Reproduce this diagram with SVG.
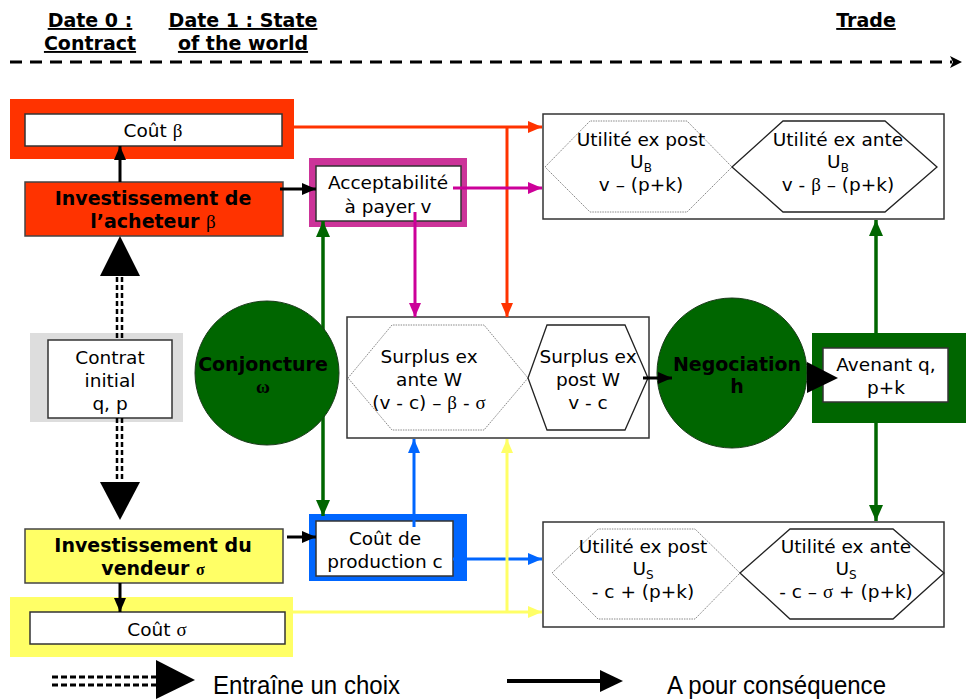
<svg xmlns="http://www.w3.org/2000/svg" width="966" height="699" viewBox="0 0 966 699">
<style>
.t{font-family:"DejaVu Sans",Verdana,sans-serif;font-size:18.5px;fill:#000;text-anchor:middle}
.b{font-weight:bold;font-size:19px}
.h{font-family:"DejaVu Sans",Verdana,sans-serif;font-size:19px;font-weight:bold;text-anchor:middle;text-decoration:underline}
.g{font-family:"Liberation Serif","Times New Roman",serif}
.w{fill:#fff;stroke:#333;stroke-width:1.5}
.hexd{fill:none;stroke:#888;stroke-width:1;stroke-dasharray:1.5 1}
.hexs{fill:none;stroke:#222;stroke-width:1.3}
.leg{font-family:"Liberation Sans",Arial,sans-serif;font-size:25px;fill:#000}
.dd{stroke:#000;stroke-width:2.5;stroke-dasharray:5 3}
</style>
<defs>
<marker id="ak" markerWidth="14" markerHeight="12" refX="14" refY="6" orient="auto" markerUnits="userSpaceOnUse"><path d="M0,0L14,6L0,12z" fill="#000"/></marker>
<marker id="ar" markerWidth="14" markerHeight="12" refX="14" refY="6" orient="auto" markerUnits="userSpaceOnUse"><path d="M0,0L14,6L0,12z" fill="#FF3300"/></marker>
<marker id="am" markerWidth="14" markerHeight="12" refX="14" refY="6" orient="auto" markerUnits="userSpaceOnUse"><path d="M0,0L14,6L0,12z" fill="#CC0099"/></marker>
<marker id="ag" markerWidth="16" markerHeight="14" refX="16" refY="7" orient="auto" markerUnits="userSpaceOnUse"><path d="M0,0L16,7L0,14z" fill="#006600"/></marker>
<marker id="ab" markerWidth="14" markerHeight="12" refX="14" refY="6" orient="auto" markerUnits="userSpaceOnUse"><path d="M0,0L14,6L0,12z" fill="#0066FF"/></marker>
<marker id="ay" markerWidth="14" markerHeight="12" refX="14" refY="6" orient="auto" markerUnits="userSpaceOnUse"><path d="M0,0L14,6L0,12z" fill="#FFFF66"/></marker>
</defs>
<rect width="966" height="699" fill="#fff"/>

<g id="header">
<text class="h" x="90" y="27">Date 0 :</text>
<text class="h" x="90" y="50">Contract</text>
<text class="h" x="243" y="27">Date 1 : State</text>
<text class="h" x="243" y="50">of the world</text>
<text class="h" x="866" y="27">Trade</text>
<line x1="10" y1="62" x2="952" y2="62" stroke="#000" stroke-width="3" stroke-dasharray="12 8"/>
<path d="M950,56L962,62L950,68L953,62z" fill="#000"/>
</g>

<g id="cout-beta">
<rect x="10" y="99" width="284" height="60" fill="#FF3300"/>
<rect class="w" x="25" y="114" width="257" height="32"/>
<text class="t" x="153" y="137">Coût <tspan class="g" font-size="19">β</tspan></text>
</g>

<g id="invest-acheteur">
<rect x="25" y="182" width="258" height="54" fill="#FF3300" stroke="#444" stroke-width="1.5"/>
<text class="t b" x="153" y="205">Investissement de</text>
<text class="t b" x="153" y="228">l’acheteur <tspan class="g" font-weight="normal" font-size="19">β</tspan></text>
</g>

<g id="acceptabilite">
<rect x="309" y="158" width="158" height="69" fill="#CC3399"/>
<rect class="w" x="316" y="166" width="145" height="55"/>
<text class="t" x="388" y="189">Acceptabilité</text>
<text class="t" x="388" y="213">à payer v</text>
</g>

<g id="utilite-acheteur">
<rect class="w" x="543" y="114" width="401" height="105" stroke-width="1.3"/>
<polygon class="hexd" points="545,167 590,121 687,121 732,167 687,212 590,212"/>
<polygon class="hexs" points="732,167 783,121 885,121 937,167 885,212 783,212"/>
<text class="t" x="641" y="146">Utilité ex post</text>
<text class="t" x="641" y="168">U<tspan font-size="12" dy="4">B</tspan></text>
<text class="t" x="641" y="191">v – (p+k)</text>
<text class="t" x="838" y="146">Utilité ex ante</text>
<text class="t" x="838" y="168">U<tspan font-size="12" dy="4">B</tspan></text>
<text class="t" x="838" y="191">v - <tspan class="g" font-size="19">β</tspan> – (p+k)</text>
</g>

<g id="contrat-initial">
<rect x="30" y="333" width="153" height="89" fill="#DDDDDD"/>
<rect class="w" x="48" y="340" width="124" height="78"/>
<text class="t" x="110" y="364">Contrat</text>
<text class="t" x="110" y="387">initial</text>
<text class="t" x="110" y="410">q, p</text>
</g>

<g id="surplus">
<rect class="w" x="347" y="317" width="302" height="121" stroke-width="1.3"/>
<polygon class="hexd" points="348,378 392,325 484,325 528,378 484,430 392,430"/>
<polygon class="hexs" points="528,378 547,325 625,325 648,378 625,430 547,430"/>
<text class="t" x="429" y="363">Surplus ex</text>
<text class="t" x="429" y="386">ante W</text>
<text class="t" x="429" y="409">(v - c) – <tspan class="g" font-size="19">β</tspan> - <tspan class="g" font-size="19">σ</tspan></text>
<text class="t" x="588" y="363">Surplus ex</text>
<text class="t" x="588" y="386">post W</text>
<text class="t" x="588" y="409">v - c</text>
</g>

<g id="negociation">
<circle cx="732" cy="373" r="75" fill="#006600" stroke="#1a3a1a" stroke-width="1"/>
<text class="t b" x="737" y="371">Negociation</text>
<text class="t b" x="737" y="393">h</text>
</g>

<g id="avenant">
<rect x="812" y="333" width="154" height="90" fill="#006600"/>
<rect class="w" x="823" y="348" width="125" height="54"/>
<text class="t" x="886" y="371">Avenant q,</text>
<text class="t" x="886" y="394">p+k</text>
</g>

<g id="invest-vendeur">
<rect x="25" y="529" width="258" height="54" fill="#FFFF66" stroke="#444" stroke-width="1.5"/>
<text class="t b" x="153" y="552">Investissement du</text>
<text class="t b" x="153" y="575">vendeur <tspan class="g" font-size="16">σ</tspan></text>
</g>

<g id="cout-production">
<rect x="309" y="514" width="158" height="67" fill="#0066FF"/>
<rect class="w" x="316" y="521" width="137" height="55"/>
<text class="t" x="385" y="545">Coût de</text>
<text class="t" x="385" y="568">production c</text>
</g>

<g id="cout-sigma">
<rect x="10" y="597" width="283" height="60" fill="#FFFF66"/>
<rect class="w" x="30" y="612" width="255" height="32"/>
<text class="t" x="157" y="636">Coût <tspan class="g" font-size="19">σ</tspan></text>
</g>

<g id="utilite-vendeur">
<rect class="w" x="543" y="522" width="401" height="105" stroke-width="1.3"/>
<polygon class="hexd" points="552,573 598,529 695,529 740,573 695,619 598,619"/>
<polygon class="hexs" points="740,573 790,529 893,529 944,573 893,619 790,619"/>
<text class="t" x="643" y="553">Utilité ex post</text>
<text class="t" x="643" y="575">U<tspan font-size="12" dy="4">S</tspan></text>
<text class="t" x="643" y="598">- c + (p+k)</text>
<text class="t" x="846" y="553">Utilité ex ante</text>
<text class="t" x="846" y="575">U<tspan font-size="12" dy="4">S</tspan></text>
<text class="t" x="846" y="598">- c – <tspan class="g" font-size="19">σ</tspan> + (p+k)</text>
</g>

<g id="connectors" fill="none">
<line x1="294" y1="127" x2="542" y2="127" stroke="#FF3300" stroke-width="3" marker-end="url(#ar)"/>
<line x1="507" y1="127" x2="507" y2="317" stroke="#FF3300" stroke-width="3" marker-end="url(#ar)"/>
<line x1="453" y1="188" x2="542" y2="188" stroke="#CC0099" stroke-width="3" marker-end="url(#am)"/>
<line x1="415" y1="212" x2="415" y2="317" stroke="#CC0099" stroke-width="3" marker-end="url(#am)"/>
<line x1="453" y1="559" x2="542" y2="559" stroke="#0066FF" stroke-width="3" marker-end="url(#ab)"/>
<line x1="414" y1="527" x2="414" y2="439" stroke="#0066FF" stroke-width="3" marker-end="url(#ab)"/>
<line x1="293" y1="612" x2="542" y2="612" stroke="#FFFF66" stroke-width="3" marker-end="url(#ay)"/>
<line x1="507" y1="612" x2="507" y2="439" stroke="#FFFF66" stroke-width="3" marker-end="url(#ay)"/>
<line x1="323" y1="380" x2="323" y2="221" stroke="#006600" stroke-width="3.5" marker-end="url(#ag)"/>
<line x1="323" y1="370" x2="323" y2="516" stroke="#006600" stroke-width="3.5" marker-end="url(#ag)"/>
<line x1="876" y1="333" x2="876" y2="220" stroke="#006600" stroke-width="3.5" marker-end="url(#ag)"/>
<line x1="876" y1="423" x2="876" y2="521" stroke="#006600" stroke-width="3.5" marker-end="url(#ag)"/>
<line x1="120" y1="182" x2="120" y2="146" stroke="#000" stroke-width="3" marker-end="url(#ak)"/>
<line x1="280" y1="189" x2="316" y2="189" stroke="#000" stroke-width="3" marker-end="url(#ak)"/>
<line x1="287" y1="537" x2="316" y2="537" stroke="#000" stroke-width="3" marker-end="url(#ak)"/>
<line x1="120" y1="583" x2="120" y2="612" stroke="#000" stroke-width="3" marker-end="url(#ak)"/>
<line x1="643" y1="378" x2="672" y2="378" stroke="#000" stroke-width="3" marker-end="url(#ak)"/>
<path d="M807,362L838,378L807,393z" fill="#000"/>
<line class="dd" x1="117" y1="277" x2="117" y2="340"/>
<line class="dd" x1="122" y1="277" x2="122" y2="340"/>
<line class="dd" x1="117" y1="418" x2="117" y2="482"/>
<line class="dd" x1="122" y1="418" x2="122" y2="482"/>
<path d="M120,236L140,276L100,276z" fill="#000"/>
<path d="M100,482L140,482L120,520z" fill="#000"/>
</g>

<g id="conjoncture">
<circle cx="267" cy="373" r="72" fill="#006600" stroke="#1a3a1a" stroke-width="1"/>
<text class="t b" x="263" y="371">Conjoncture</text>
<text class="t b g" x="263" y="393" font-size="15">ω</text>
</g>

<g id="legend">
<line x1="52" y1="677" x2="158" y2="677" stroke="#000" stroke-width="3" stroke-dasharray="6 3"/>
<line x1="52" y1="685" x2="158" y2="685" stroke="#000" stroke-width="3" stroke-dasharray="6 3"/>
<path d="M156,660L195,680L156,699z" fill="#000"/>
<text class="leg" x="213" y="694" textLength="187" lengthAdjust="spacingAndGlyphs">Entraîne un choix</text>
<line x1="507" y1="681" x2="602" y2="681" stroke="#000" stroke-width="4"/>
<path d="M600,670L623,681L600,692z" fill="#000"/>
<text class="leg" x="667" y="694" textLength="219" lengthAdjust="spacingAndGlyphs">A pour conséquence</text>
</g>
</svg>
